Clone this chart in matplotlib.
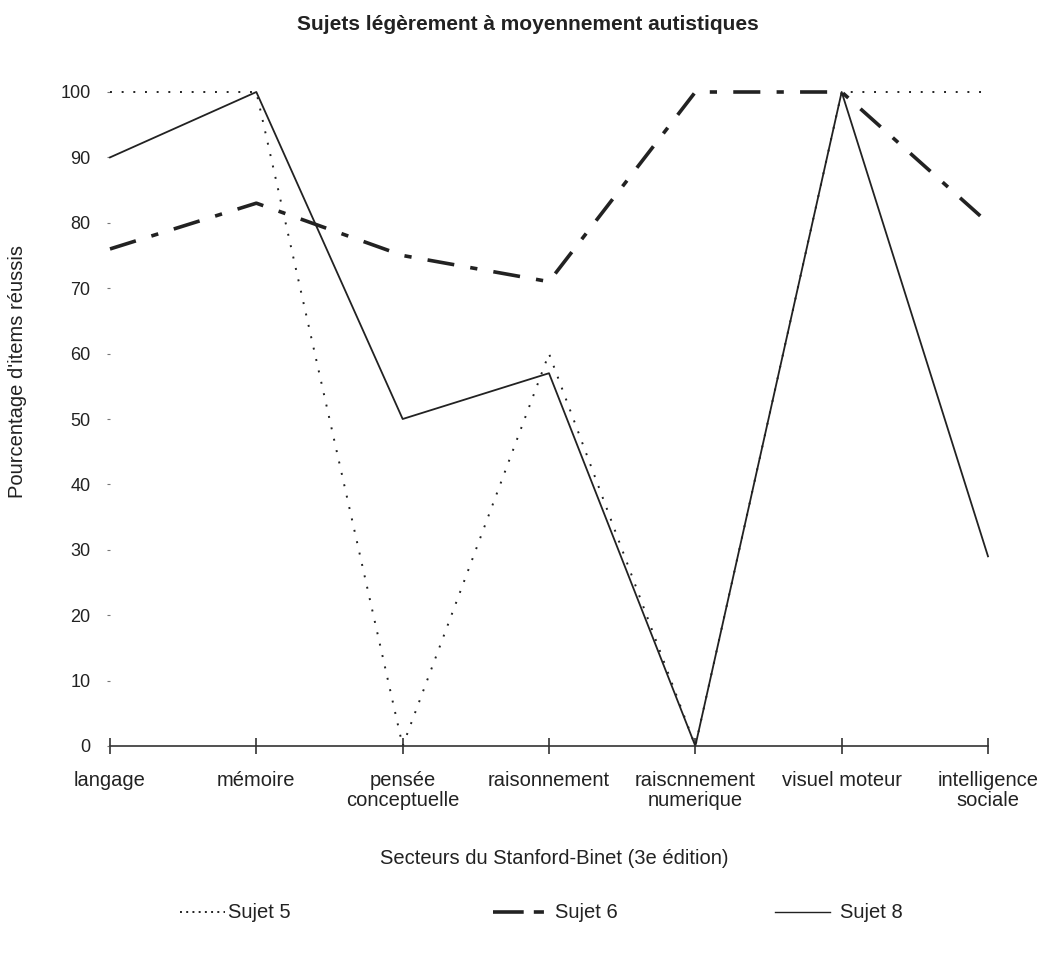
import matplotlib.pyplot as plt
from matplotlib.lines import Line2D

plt.rcParams['font.family'] = ['Liberation Sans', 'DejaVu Sans']

secteurs = ["langage", "mémoire", "pensée\nconceptuelle", "raisonnement",
            "raiscnnement\nnumerique", "visuel moteur", "intelligence\nsociale"]
sujet5 = [100, 100, 0, 60, 0, 100, 100]
sujet6 = [76, 83, 75, 71, 100, 100, 80]
sujet8 = [90, 100, 50, 57, 0, 100, 29]
yticks = list(range(0, 101, 10))

W, H = 1053, 960
fig = plt.figure(figsize=(W / 100, H / 100), dpi=100)
ax = fig.add_axes([110 / W, 1 - 746 / H, 878 / W, 654 / H])

ink = "#222222"
styles = {
    "Sujet 5": dict(lw=1.4, ls=(0, (1, 5))),
    "Sujet 6": dict(lw=2.6, ls=(0, (7.5, 4.5, 2, 4.5))),
    "Sujet 8": dict(lw=1.3, ls="-"),
}

x = range(len(secteurs))
ax.plot(x, sujet5, color=ink, clip_on=False, **styles["Sujet 5"])
ax.plot(x, sujet6, color=ink, clip_on=False, **styles["Sujet 6"])
ax.plot(x, sujet8, color=ink, clip_on=False, **styles["Sujet 8"])

ax.set_xlim(0, len(secteurs) - 1)
ax.set_ylim(0, 100)
for side in ["top", "right", "left"]:
    ax.spines[side].set_visible(False)
ax.spines["bottom"].set_color("#333333")
ax.spines["bottom"].set_linewidth(1.2)

ax.set_xticks(list(x))
ax.set_xticklabels(secteurs, fontsize=14.5, color=ink, va="top", linespacing=1.05)
ax.tick_params(axis="x", direction="inout", length=12, width=1.2, color="#333333", pad=12)
ax.set_yticks(yticks)
ax.set_yticklabels([str(v) for v in yticks], fontsize=13, color=ink)
ax.tick_params(axis="y", length=2, width=0.8, color="#777777", pad=12)

fig.text(528 / W, 1 - 25 / H, "Sujets légèrement à moyennement autistiques",
         ha="center", va="center", fontsize=15, fontweight="bold", color=ink)
fig.text(18 / W, 1 - 372 / H, "Pourcentage d'items réussis", rotation=90,
         ha="center", va="center", fontsize=14.5, color=ink)
fig.text(554 / W, 1 - 858 / H, "Secteurs du Stanford-Binet (3e édition)",
         ha="center", va="center", fontsize=14.5, color=ink)

# legend drawn by hand so the three entries sit where they do in the original
legend_items = [("Sujet 5", 180, 225, 228, (0, (1, 2.2)), 1.4),
                ("Sujet 6", 493, 545, 555, (0, (8.5, 2.8, 2.8, 2.8)), 2.6),
                ("Sujet 8", 775, 830, 840, "-", 1.0)]
ly = 1 - 912 / H
for name, x0, x1, tx, ls, lw in legend_items:
    fig.add_artist(Line2D([x0 / W, x1 / W], [ly, ly], transform=fig.transFigure,
                          color=ink, lw=lw, ls=ls))
    fig.text(tx / W, ly, name, ha="left", va="center", fontsize=14.5, color=ink)

fig.savefig("out.png", dpi=100)
